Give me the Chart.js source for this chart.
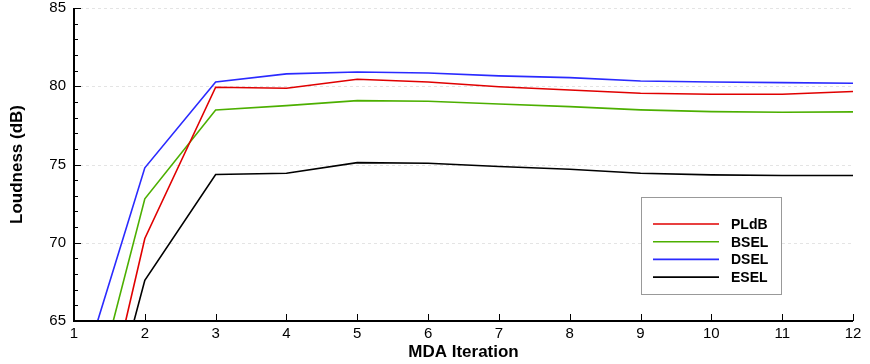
<!DOCTYPE html>
<html>
<head>
<meta charset="utf-8">
<script src="https://cdn.jsdelivr.net/npm/chart.js@4.4.1/dist/chart.umd.min.js"></script>
<style>
  html, body { margin: 0; padding: 0; background: #fff; }
  #wrap { width: 870px; height: 364px; }
</style>
</head>
<body>
<div id="wrap"><canvas id="chart" width="870" height="364"></canvas></div>
<script>
// Data
const iterations = [1, 2, 3, 4, 5, 6, 7, 8, 9, 10, 11, 12];
const pldb = [50.8, 70.27, 79.94, 79.87, 80.45, 80.27, 79.97, 79.76, 79.55, 79.49, 79.49, 79.66];
const bsel = [55.3, 72.81, 78.48, 78.76, 79.08, 79.04, 78.87, 78.70, 78.49, 78.38, 78.34, 78.36];
const dsel = [60.1, 74.79, 80.27, 80.79, 80.91, 80.85, 80.66, 80.55, 80.34, 80.27, 80.23, 80.19];
const esel = [50.6, 67.60, 74.36, 74.44, 75.12, 75.08, 74.87, 74.70, 74.44, 74.34, 74.30, 74.30];
const yTicks = [65, 70, 75, 80, 85];

const FONT = "'Liberation Sans', Arial, Helvetica, sans-serif";

function pts(arr) {
  return arr.map((v, i) => ({ x: iterations[i], y: v }));
}

function series(label, arr, color) {
  return {
    label: label,
    data: pts(arr),
    borderColor: color,
    backgroundColor: color,
    borderWidth: 1.6,
    pointRadius: 0,
    tension: 0,
    fill: false
  };
}

// faint dashed grid lines, inward ticks and the boxed legend
const decorations = {
  id: "decorations",
  beforeDatasetsDraw(chart) {
    const ctx = chart.ctx;
    const y = chart.scales.y;
    const a = chart.chartArea;
    ctx.save();
    ctx.strokeStyle = "#e4e4e4";
    ctx.lineWidth = 1;
    ctx.setLineDash([3, 3]);
    yTicks.slice(1).forEach(function (t) {
      const py = Math.round(y.getPixelForValue(t)) + 0.5;
      ctx.beginPath();
      ctx.moveTo(a.left, py);
      ctx.lineTo(a.right, py);
      ctx.stroke();
    });
    ctx.restore();
  },
  afterDraw(chart) {
    const ctx = chart.ctx;
    const x = chart.scales.x;
    const y = chart.scales.y;
    const a = chart.chartArea;
    ctx.save();
    ctx.strokeStyle = "#000";
    ctx.lineWidth = 1;
    // y ticks: major every 5, minor every 1
    for (let v = 65; v <= 85; v++) {
      const py = Math.round(y.getPixelForValue(v)) + 0.5;
      const len = v % 5 === 0 ? 7 : 4;
      ctx.beginPath();
      ctx.moveTo(a.left, py);
      ctx.lineTo(a.left + len, py);
      ctx.stroke();
    }
    iterations.forEach(function (v) {
      const px = Math.round(x.getPixelForValue(v)) + 0.5;
      ctx.beginPath();
      ctx.moveTo(px, a.bottom);
      ctx.lineTo(px, a.bottom - 7);
      ctx.stroke();
    });
    // axis lines
    ctx.lineWidth = 2;
    ctx.beginPath();
    ctx.moveTo(a.left, a.top);
    ctx.lineTo(a.left, a.bottom);
    ctx.lineTo(a.right, a.bottom);
    ctx.stroke();

    // legend box
    const bx = 641.5, by = 197.5, bw = 140, bh = 97;
    ctx.fillStyle = "#fff";
    ctx.fillRect(bx, by, bw, bh);
    ctx.strokeStyle = "#999";
    ctx.lineWidth = 1;
    ctx.strokeRect(bx, by, bw, bh);
    ctx.font = "bold 14px " + FONT;
    ctx.textBaseline = "middle";
    ctx.textAlign = "left";
    chart.data.datasets.forEach(function (ds, i) {
      const ly = 224 + i * 17.7;
      ctx.strokeStyle = ds.borderColor;
      ctx.lineWidth = 1.6;
      ctx.beginPath();
      ctx.moveTo(653, ly);
      ctx.lineTo(719, ly);
      ctx.stroke();
      ctx.fillStyle = "#000";
      ctx.fillText(ds.label, 731, ly + 1);
    });
    ctx.restore();
  }
};

new Chart(document.getElementById("chart"), {
  type: "line",
  data: {
    datasets: [
      series("PLdB", pldb, "#e00000"),
      series("BSEL", bsel, "#4caf00"),
      series("DSEL", dsel, "#2a2aff"),
      series("ESEL", esel, "#000000")
    ]
  },
  options: {
    responsive: false,
    animation: false,
    layout: { padding: { top: 8, right: 17, left: 0, bottom: 0 } },
    plugins: {
      legend: { display: false },
      tooltip: { enabled: false }
    },
    scales: {
      x: {
        type: "linear",
        min: 1,
        max: 12,
        afterFit: function (s) {
          s.height = 43;
          s.paddingLeft = 0;
          s.paddingRight = 0;
        },
        afterBuildTicks: function (s) { s.ticks = iterations.map(v => ({ value: v })); },
        grid: { display: false, drawTicks: false },
        border: { display: false },
        ticks: {
          color: "#000",
          padding: 4,
          maxRotation: 0,
          font: { family: FONT, size: 15 }
        },
        title: {
          display: true,
          text: "MDA Iteration",
          color: "#000",
          padding: { top: 0, bottom: 1 },
          font: { family: FONT, size: 17, weight: "bold" }
        }
      },
      y: {
        type: "linear",
        min: 65,
        max: 85,
        afterFit: function (s) {
          s.width = 74;
          s.paddingTop = 0;
          s.paddingBottom = 0;
        },
        afterBuildTicks: function (s) { s.ticks = yTicks.map(v => ({ value: v })); },
        grid: { display: false, drawTicks: false },
        border: { display: false },
        ticks: {
          color: "#000",
          padding: 8,
          font: { family: FONT, size: 15 }
        },
        title: {
          display: true,
          text: "Loudness (dB)",
          color: "#000",
          padding: { top: 7, bottom: 0 },
          font: { family: FONT, size: 17, weight: "bold" }
        }
      }
    }
  },
  plugins: [decorations]
});
</script>
</body>
</html>
